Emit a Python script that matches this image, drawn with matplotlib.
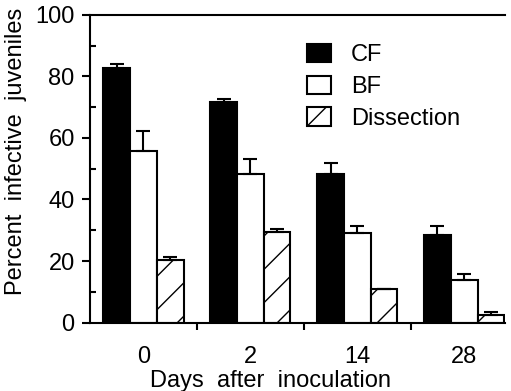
import matplotlib.pyplot as plt
import numpy as np

plt.rcParams['font.family'] = ['Liberation Sans', 'DejaVu Sans']
plt.rcParams['hatch.linewidth'] = 1.0

days = ["0", "2", "14", "28"]
cf = [82.7, 71.6, 48.2, 28.5]
cf_err = [1.3, 1.1, 3.8, 2.9]
bf = [55.6, 48.3, 29.0, 13.7]
bf_err = [6.8, 4.8, 2.5, 2.1]
dissection = [20.2, 29.3, 11.0, 2.5]
dissection_err = [1.1, 1.0, 0.0, 0.8]

fs = 17

fig = plt.figure(figsize=(5.11, 3.91), dpi=100)
ax = fig.add_axes([0.176, 0.175, 0.812, 0.787])

x = np.arange(len(days))
w = 0.25
err_kw = dict(capsize=5, elinewidth=1.5, capthick=1.5, ecolor="black")

ax.bar(x - w, cf, w, color="black", edgecolor="black", linewidth=1.5,
       yerr=[np.zeros(4), cf_err], error_kw=err_kw, label="CF")
ax.bar(x, bf, w, color="white", edgecolor="black", linewidth=1.5,
       yerr=[np.zeros(4), bf_err], error_kw=err_kw, label="BF")
ax.bar(x + w, dissection, w, color="white", edgecolor="black", linewidth=1.5,
       hatch="/", yerr=[np.zeros(4), dissection_err], error_kw=err_kw,
       label="Dissection")

ax.set_xlim(-0.5, 3.38)
ax.set_ylim(0, 100)

ax.spines["right"].set_visible(False)
for s in ["left", "bottom", "top"]:
    ax.spines[s].set_linewidth(1.5)

ax.set_yticks([0, 20, 40, 60, 80, 100])
ax.set_yticks([10, 30, 50, 70, 90], minor=True)
ax.tick_params(axis="y", which="major", direction="out", length=6, width=1.5,
               labelsize=fs, pad=5)
ax.tick_params(axis="y", which="minor", direction="in", length=4, width=1.5)

ax.set_xticks([0.5, 1.5, 2.5])
ax.set_xticklabels([])
ax.set_xticks(x, minor=True)
ax.set_xticklabels(days, minor=True)
ax.tick_params(axis="x", which="major", direction="out", length=5, width=1.5)
ax.tick_params(axis="x", which="minor", length=0, labelsize=fs, pad=17)

ax.set_xlabel("Days  after  inoculation", fontsize=fs)
ax.xaxis.set_label_coords(0.435, -0.155)
ax.set_ylabel("Percent  infective  juveniles", fontsize=fs)
ax.yaxis.set_label_coords(-0.152, 0.555)

ax.legend(loc="upper left", bbox_to_anchor=(0.523, 0.905), frameon=False,
          fontsize=fs, handlelength=1.0, handleheight=0.8, labelspacing=0.4,
          handletextpad=0.85, borderpad=0, borderaxespad=0)

fig.savefig("out.png", dpi=100)
